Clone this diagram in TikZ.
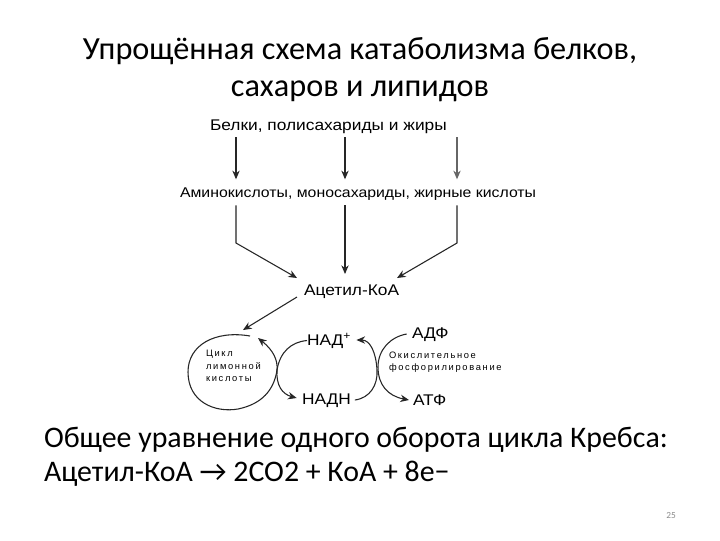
\documentclass[tikz,border=0pt]{standalone}
\usepackage{fontspec}
\setmainfont{Carlito}
\newfontfamily\diag[FakeStretch=1.12]{Liberation Sans}
\newfontfamily\diagsp[LetterSpace=18]{Liberation Sans}
\usetikzlibrary{arrows.meta}
\begin{document}
\begin{tikzpicture}[x=0.75pt,y=-0.75pt,
  every node/.style={inner sep=0pt,outer sep=0pt},
  ttl/.style={font=\fontsize{24.2}{28}\selectfont,anchor=base},
  body/.style={font=\fontsize{22.4}{26}\selectfont,anchor=base west},
  lbl/.style={font=\diag\fontsize{11.6}{13}\selectfont,anchor=base west},
  sml/.style={font=\diagsp\fontsize{7}{8}\selectfont,anchor=base west},
  arr/.style={line width=0.8pt,draw=black!85,-{Stealth[length=6.5pt,width=5.5pt]}},
  ln/.style={line width=0.8pt,draw=black!85},
  dbl/.style={line width=0.8pt,draw=black!85,{Stealth[length=6.5pt,width=5.5pt]}-{Stealth[length=6.5pt,width=5.5pt]}}]
\useasboundingbox (0,0) rectangle (720,540);
\fill[white] (0,0) rectangle (720,540);

% titles
\node[ttl] (t1) at (360,59) {Упрощённая схема катаболизма белков,};
\node[ttl] (t2) at (360,96) {сахаров и липидов};

% diagram labels
\node[lbl] (top) at (210,130) {Белки, полисахариды и жиры};
\node[lbl,font=\diag\fontsize{10.6}{12}\selectfont] (mid) at (180,197) {Аминокислоты, моносахариды, жирные кислоты};
\node[lbl] (acet) at (304,295) {Ацетил-КоА};
\node[lbl] (nad) at (307,345) {НАД\textsuperscript{+}};
\node[lbl] (adf) at (412,338) {АДФ};
\node[lbl] (nadh) at (302,404) {НАДН};
\node[lbl] (atf) at (413,405) {АТФ};
\node[sml] (ok1) at (389,358) {Окислительное};
\node[sml] (ok2) at (389,370) {фосфорилирование};
\node[sml] (c1) at (206,356) {Цикл};
\node[sml] (c2) at (206,369) {лимонной};
\node[sml] (c3) at (206,381) {кислоты};

% bottom text
\node[body] (b1) at (44,447) {Общее уравнение одного оборота цикла Кребса:};
\node[body] (b2) at (44,481) {Ацетил-КоА → 2CO2 + КоА + 8e−};
\node[font=\fontsize{7}{8}\selectfont,text=black!45,anchor=base] (pg) at (671,518) {25};

% vertical arrows top -> mid
\coordinate (x1) at (236,0);
\coordinate (x2) at (345,0);
\coordinate (x3) at (457,0);
\draw[arr] ([yshift=-3]top.south -| x1) -- ([yshift=6]mid.north -| x1);
\draw[arr] ([yshift=-3]top.south -| x2) -- ([yshift=6]mid.north -| x2);
\draw[arr,draw=black!60] ([yshift=-3]top.south -| x3) -- ([yshift=6]mid.north -| x3);

% mid -> acetyl
\coordinate (k1) at (236,243);
\coordinate (k3) at (457,243);
\coordinate (e1) at (297,278);
\coordinate (e3) at (397,278);
\draw[arr] ([yshift=-4]mid.south -| x1) -- (k1) -- (e1);
\draw[arr] ([yshift=-4]mid.south -| x2) -- (345,274);
\draw[arr] ([yshift=-4]mid.south -| x3) -- (k3) -- (e3);

% acetyl -> cycle
\coordinate (cyc) at (243,330);
\draw[arr] (297,297) -- (cyc);

% cycle loop continuing to NAD+
\draw[ln] (250,336) .. controls (215,330) and (188,345) .. (188,372)
  .. controls (188,402) and (215,413) .. (238,409)
  .. controls (262,404) and (274,390) .. (277,370)
  .. controls (280,352) and (291,342) .. (nad.west);

% cycle -> NADH (double headed)
\draw[dbl] (258,338) .. controls (273,350) and (278,360) .. (277,370)
  .. controls (276,385) and (282,394) .. ([xshift=-4]nadh.west |- 0,398);

% NADH -> NAD+
\draw[arr] ([xshift=3]nadh.east |- 0,400) .. controls (370,398) and (378,385) .. (377,370)
  .. controls (376,352) and (370,340) .. ([xshift=4]nad.east |- 0,340);

% ADF -> ATF
\draw[arr] ([xshift=-4]adf.west |- 0,334) .. controls (390,337) and (378,350) .. (378,367)
  .. controls (378,385) and (388,396) .. ([xshift=-3]atf.west |- 0,400);
\end{tikzpicture}
\end{document}
